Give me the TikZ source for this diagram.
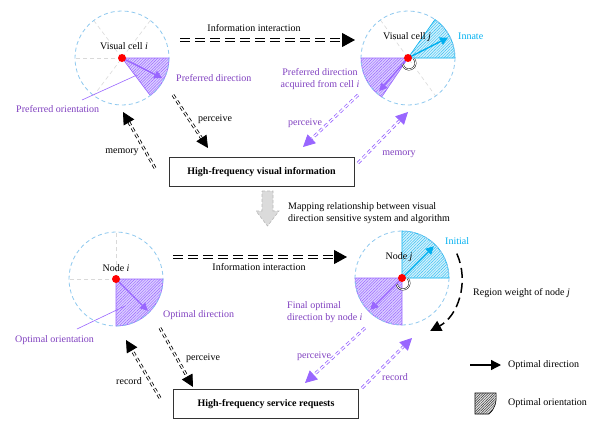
\documentclass[tikz,border=0pt]{standalone}
\usepackage{fontspec}
\setmainfont{Liberation Serif}
\usetikzlibrary{arrows.meta,patterns.meta,calc}
\definecolor{purp}{HTML}{9966FF}
\definecolor{purptext}{HTML}{7F3FBF}
\definecolor{purpfill}{HTML}{DCCFFF}
\definecolor{cyanc}{HTML}{00B0F0}
\definecolor{cyanfill}{HTML}{D5F1FC}
\definecolor{circblue}{HTML}{8EC8EE}
\begin{document}
\begin{tikzpicture}[x=1pt,y=-1pt,font=\fontsize{10}{12}\selectfont,
 circ/.style={draw=circblue,dash pattern=on 4pt off 3pt,line width=0.8pt},
 guide/.style={draw=gray!30,dash pattern=on 4pt off 3pt,line width=0.6pt},
 psec/.style={fill=purpfill,draw=purp,line width=0.6pt,postaction={pattern={Lines[angle=45,distance=2pt,line width=0.45pt]},pattern color=purp}},
 csec/.style={fill=cyanfill,draw=cyanc,line width=0.6pt,postaction={pattern={Lines[angle=45,distance=2pt,line width=0.45pt]},pattern color=cyanc!80}},
 parrow/.style={draw=purp,line width=1.4pt,-{Triangle[length=8pt,width=8pt]}},
 carrow/.style={draw=cyanc,line width=1.4pt,-{Triangle[length=8pt,width=8pt]}},
 dot/.style={fill=red},
 bdbl/.style={draw=black,double=white,double distance=1.3pt,line width=0.8pt,dash pattern=on 4pt off 3pt,-{Triangle[length=12pt,width=12pt]}},
 pdbl/.style={draw=purp,double=white,double distance=1.3pt,line width=0.8pt,dash pattern=on 4pt off 3pt,-{Triangle[length=12pt,width=12pt]}},
 infodbl/.style={draw=black,double=white,double distance=1.6pt,line width=1pt,dash pattern=on 10pt off 5pt,-{Triangle[length=13pt,width=14pt]}},
 lbl/.style={inner sep=0pt},
 plbl/.style={inner sep=0pt,text=purptext},
 box/.style={draw=black!80,line width=0.7pt,minimum width=185pt,minimum height=29pt,font=\fontsize{10}{12}\selectfont\bfseries},
 rot/.style={draw=black,double=white,double distance=0.9pt,line width=0.45pt},
 ptr/.style={draw=purp,line width=0.6pt}
]
\useasboundingbox (0,0) rectangle (599,431);
\coordinate (c1) at (122,58);
\coordinate (c2) at (408,58);
\coordinate (c3) at (116,279);
\coordinate (c4) at (402,278);

% ---------- circle 1: Visual cell i
\draw[guide] (c1) -- ++(180:47);
\draw[guide] ($(c1)+(-53:47)$) -- ($(c1)+(127:47)$);
\draw[guide] ($(c1)+(-127:47)$) -- (c1);
\draw[psec] (c1) -- ++(0:47) arc[start angle=0,end angle=53,radius=47] -- cycle;
\draw[circ] (c1) circle[radius=47];
\draw[parrow] (c1) -- ++(26.5:45);
\fill[dot] (c1) circle[radius=4];
\node[lbl] (lc1) at (124,46) {Visual cell \textit{i}};
\node[plbl,anchor=west] (pd1) at (176,78) {Preferred direction};
\node[plbl,anchor=west] (po1) at (16,109) {Preferred orientation};
\coordinate (po1s) at (82,100);
\coordinate (po1e) at (137,75);
\draw[ptr] (po1s) -- (po1e);

% ---------- circle 2: Visual cell j
\draw[guide] ($(c2)+(-126:47)$) -- ($(c2)+(54:47)$);
\draw[csec] (c2) -- ++(-55:47) arc[start angle=-55,end angle=0,radius=47] -- cycle;
\draw[psec] (c2) -- ++(124:47) arc[start angle=124,end angle=180,radius=47] -- cycle;
\draw[circ] (c2) circle[radius=47];
\draw[carrow] (c2) -- ++(-27:45);
\draw[parrow] (c2) -- ++(131:44);
\draw[rot] ($(c2)+(1,5)+(-40:6.5)$) arc[start angle=-40,end angle=170,radius=6.5];
\fill[dot] (c2) circle[radius=4];
\node[lbl] (lc2) at (407,37) {Visual cell \textit{j}};
\node[lbl,anchor=west,text=cyanc] (inn) at (458,36) {Innate};
\node[plbl,align=center] (pda) at (320,79) {Preferred direction\\acquired from cell \textit{i}};

% ---------- top information interaction
\coordinate (ia1) at (180,40);
\coordinate (ia2) at (355,40);
\draw[infodbl] (ia1) -- (ia2);
\node[lbl] (it1) at (254,28) {Information interaction};

% ---------- top box
\node[box] (b1) at (261.5,172) {High-frequency visual information};

\coordinate (pa1) at (173,95);
\coordinate (pa2) at (208,148);
\draw[bdbl] (pa1) -- (pa2);
\node[lbl] (pl1) at (215,119) {perceive};
\coordinate (ma1) at (155,168);
\coordinate (ma2) at (123,112);
\draw[bdbl] (ma1) -- (ma2);
\node[lbl] (ml1) at (122,152) {memory};
\coordinate (pb1) at (358,95);
\coordinate (pb2) at (303,147);
\draw[pdbl] (pb1) -- (pb2);
\node[plbl] (pl2) at (305,123) {perceive};
\coordinate (mb1) at (358,163);
\coordinate (mb2) at (408,112);
\draw[pdbl] (mb1) -- (mb2);
\node[plbl] (ml2) at (399,154) {memory};

% ---------- mapping arrow
\draw[fill=gray!28,draw=gray!55,dash pattern=on 3pt off 2pt,line width=0.6pt]
 (262,191) -- (273,191) -- (273,211) -- (279,211) -- (267.5,226) -- (256,211) -- (262,211) -- cycle;
\node[lbl,anchor=west,align=left] (map) at (288,213) {Mapping relationship between visual\\direction sensitive system and algorithm};

% ---------- circle 3: Node i
\draw[guide] (c3) -- ++(180:47);
\draw[guide] (c3) -- ++(270:47);
\draw[psec] (c3) -- ++(0:47) arc[start angle=0,end angle=90,radius=47] -- cycle;
\draw[circ] (c3) circle[radius=47];
\draw[parrow] (c3) -- ++(45:45);
\fill[dot] (c3) circle[radius=4];
\node[lbl] (lc3) at (116,268) {Node \textit{i}};
\node[plbl,anchor=west] (od3) at (163,315) {Optimal direction};
\node[plbl,anchor=west] (oo3) at (15,340) {Optimal orientation};
\coordinate (oo3s) at (77,329);
\coordinate (oo3e) at (125,306);
\draw[ptr] (oo3s) -- (oo3e);

% ---------- circle 4: Node j
\draw[csec] (c4) -- ++(270:47) arc[start angle=270,end angle=360,radius=47] -- cycle;
\draw[psec] (c4) -- ++(90:47) arc[start angle=90,end angle=180,radius=47] -- cycle;
\draw[circ] (c4) circle[radius=47];
\draw[carrow] (c4) -- ++(-45:45);
\draw[parrow] (c4) -- ++(135:45);
\draw[rot] ($(c4)+(1,5)+(-40:6.5)$) arc[start angle=-40,end angle=170,radius=6.5];
\fill[dot] (c4) circle[radius=4];
\node[lbl] (lc4) at (399,257) {Node \textit{j}};
\node[lbl,anchor=west,text=cyanc] (ini) at (445,241) {Initial};
\coordinate (rw1) at ($(c4)+(-24:60)$);
\coordinate (rw2) at ($(c4)+(62:60)$);
\draw[line width=1.5pt,dash pattern=on 10pt off 5pt,-{Triangle[length=11pt,width=11pt]}] (rw1) arc[start angle=-24,end angle=62,radius=60];
\node[lbl,anchor=west] (rwl) at (473,293) {Region weight of node \textit{j}};
\node[plbl,anchor=west,align=left] (fod) at (287,312) {Final optimal\\direction by node \textit{i}};

% ---------- bottom information interaction
\coordinate (ib1) at (173,257);
\coordinate (ib2) at (347,257);
\draw[infodbl] (ib1) -- (ib2);
\node[lbl] (it2) at (259,267) {Information interaction};

% ---------- bottom box
\node[box] (b2) at (266,404) {High-frequency service requests};
\coordinate (pc1) at (160,328);
\coordinate (pc2) at (193,387);
\draw[bdbl] (pc1) -- (pc2);
\node[lbl] (pl3) at (203,358) {perceive};
\coordinate (rc1) at (160,398);
\coordinate (rc2) at (126,340);
\draw[bdbl] (rc1) -- (rc2);
\node[lbl] (rl3) at (129,381) {record};
\coordinate (pd1a) at (365,328);
\coordinate (pd2a) at (305,383);
\draw[pdbl] (pd1a) -- (pd2a);
\node[plbl] (pl4) at (314,356) {perceive};
\coordinate (rd1) at (362,388);
\coordinate (rd2) at (412,338);
\draw[pdbl] (rd1) -- (rd2);
\node[plbl] (rl4) at (395,377) {record};

% ---------- legend
\coordinate (lg1) at (470,365);
\coordinate (lg2) at (501,365);
\draw[line width=1.3pt,-{Triangle[length=10pt,width=10pt]}] (lg1) -- (lg2);
\node[lbl,anchor=west] (lgt1) at (508,365) {Optimal direction};
\draw[fill=gray!20,line width=0.6pt,postaction={pattern={Lines[angle=45,distance=1.8pt,line width=0.5pt]},pattern color=black!80}]
 (475,393) -- (496,393) .. controls (497,403) and (494,410) .. (489,414) -- (475,414) -- cycle;
\node[lbl,anchor=west] (lgt2) at (508,403) {Optimal orientation};
\end{tikzpicture}
\end{document}
